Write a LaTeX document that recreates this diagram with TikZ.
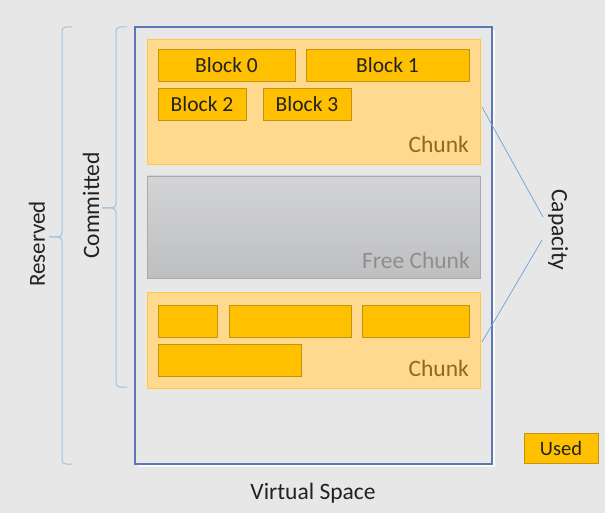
\documentclass[tikz,border=0pt]{standalone}
\usepackage{fontspec}
\setmainfont{Carlito}
\definecolor{bg}{HTML}{E7E7E7}
\definecolor{vsborder}{HTML}{5A78B4}
\definecolor{chunkfill}{HTML}{FFD98E}
\definecolor{chunkborder}{HTML}{FFC93E}
\definecolor{blockfill}{HTML}{FFC000}
\definecolor{blockborder}{HTML}{C39412}
\definecolor{chunktext}{HTML}{8C6A1E}
\definecolor{freefill}{HTML}{C8C9CB}
\definecolor{freeborder}{HTML}{A9A9A9}
\definecolor{freetext}{HTML}{8E8E8E}
\definecolor{bracecol}{HTML}{9CC2E6}
\definecolor{capline}{HTML}{6FA2D8}
\definecolor{txt}{HTML}{222222}
\tikzset{
  vspace/.style={draw=vsborder, line width=1.2pt, fill=bg, inner sep=0pt},
  chunkbox/.style={draw=chunkborder, line width=0.8pt, fill=chunkfill, inner sep=0pt},
  freebox/.style={draw=freeborder, line width=0.8pt, top color=freefill!80!white, bottom color=freefill!95!black, inner sep=0pt},
  blockbox/.style={draw=blockborder, line width=0.8pt, fill=blockfill, inner sep=0pt, minimum height=32pt, text=txt, font=\fontsize{21.5}{23}\selectfont},
  chunklabel/.style={anchor=east, text=chunktext, inner sep=0pt, font=\fontsize{23.5}{25}\selectfont},
  sidelabel/.style={text=txt, inner sep=0pt, font=\fontsize{23}{25}\selectfont},
  bracepath/.style={draw=bracecol, line width=1pt, rounded corners=4pt},
  capconn/.style={draw=capline, line width=0.7pt},
}
\begin{document}
\begin{tikzpicture}[x=1pt,y=1pt]
\useasboundingbox (0,0) rectangle (605,-513);
\fill[bg] (0,0) rectangle (605,-513);
% shadow of virtual space
\node[fill=white!75!bg, minimum width=357pt, minimum height=437pt, inner sep=0pt] (vsshadow) at (316,-248.5) {};
\node[vspace, minimum width=357pt, minimum height=437pt] (vs) at (313.5,-245.5) {};
% top chunk
\node[chunkbox, minimum width=333pt, minimum height=125pt] (ch1) at (313.5,-101.5) {};
\node[blockbox, minimum width=137pt] (b0) at (226.5,-65) {Block 0};
\node[blockbox, minimum width=163pt] (b1) at (387.5,-65) {Block 1};
\node[blockbox, minimum width=88pt] (b2) at (202,-104) {Block 2};
\node[blockbox, minimum width=88pt] (b3) at (307,-104) {Block 3};
\node[chunklabel] (ch1lab) at (469,-144) {Chunk};
% free chunk
\node[freebox, minimum width=333pt, minimum height=102pt] (fc) at (313.5,-227) {};
\node[chunklabel, text=freetext] (fclab) at (470,-260) {Free Chunk};
% bottom chunk
\node[chunkbox, minimum width=333pt, minimum height=96pt] (ch2) at (313.5,-340) {};
\node[blockbox, minimum width=59pt] (c1) at (187.5,-321) {};
\node[blockbox, minimum width=122pt] (c2) at (290,-321) {};
\node[blockbox, minimum width=107pt] (c3) at (415.5,-321) {};
\node[blockbox, minimum width=143pt] (c4) at (229.5,-360) {};
\node[chunklabel] (ch2lab) at (469,-368) {Chunk};
% virtual space label
\node[sidelabel, font=\fontsize{23.5}{25}\selectfont] (vslab) at (313,-493) {Virtual Space};
% braces
\coordinate (rtop) at (72,-27);
\coordinate (rtip) at (49,-237);
\coordinate (rbot) at (72,-464);
\path[bracepath] (rtop) -- (62,-27) -- (62,-237) -- (rtip);
\path[bracepath] (rtip) -- (62,-237) -- (62,-464) -- (rbot);
\node[sidelabel, rotate=90] (reslab) at (37,-244) {Reserved};
\coordinate (ctop) at (127,-27);
\coordinate (ctip) at (102,-208);
\coordinate (cbot) at (127,-387);
\path[bracepath] (ctop) -- (116,-27) -- (116,-208) -- (ctip);
\path[bracepath] (ctip) -- (116,-208) -- (116,-387) -- (cbot);
\node[sidelabel, rotate=90, font=\fontsize{23.5}{25}\selectfont] (comlab) at (91,-205.5) {Committed};
% capacity
\node[sidelabel, rotate=-90, font=\fontsize{23.5}{25}\selectfont] (caplab) at (558,-230) {Capacity};
\coordinate (k1) at (482,-107);
\coordinate (k2) at (482,-342);
\coordinate (p1) at (543,-217);
\coordinate (p2) at (542,-240);
\path[capconn] (k1) -- (p1);
\path[capconn] (p2) -- (k2);
% used legend
\node[blockbox, minimum width=74pt, minimum height=30pt, font=\fontsize{20.5}{22}\selectfont] (used) at (561,-448) {Used};
\end{tikzpicture}
\end{document}
